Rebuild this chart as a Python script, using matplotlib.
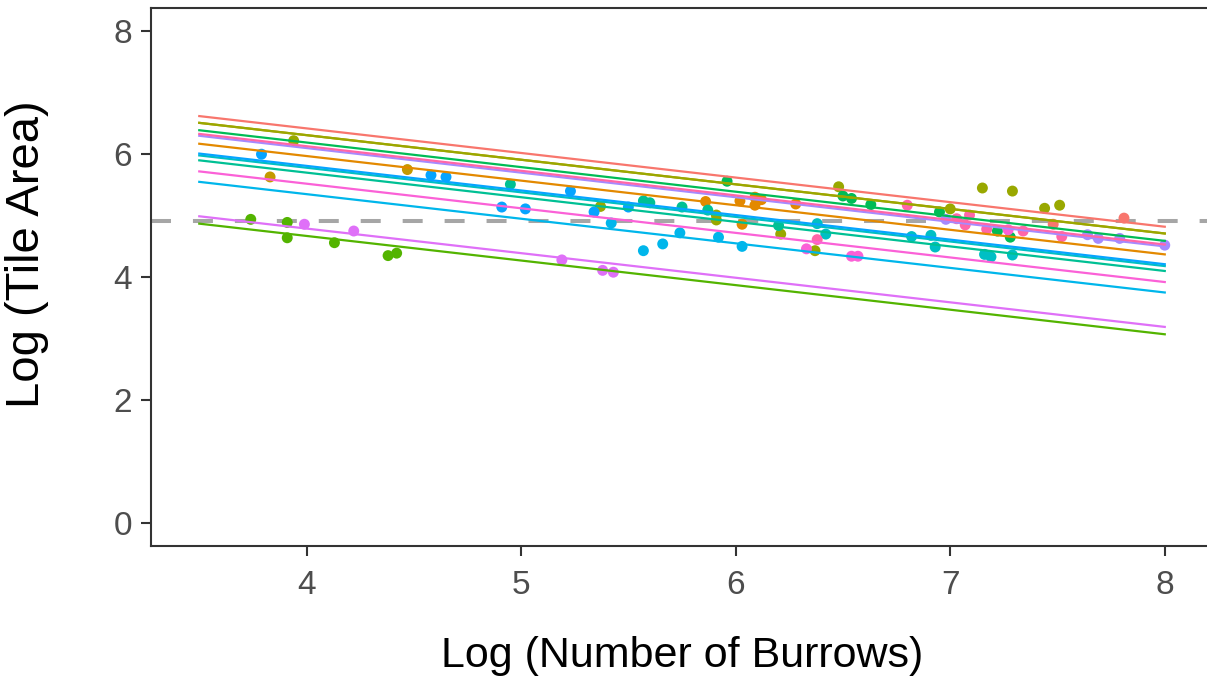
import matplotlib
matplotlib.use("Agg")
import matplotlib.pyplot as plt
import numpy as np

plt.rcParams['font.family'] = ['Liberation Sans', 'DejaVu Sans']

# group colours (ggplot hue palette, 14 levels)
colors = ["#F8766D", "#E38900", "#C49A00", "#99A800", "#53B400", "#00BC56", "#00C094",
          "#00BFC4", "#00B6EB", "#06A4FF", "#A58AFF", "#DF70F8", "#FB61D7", "#FF66A8"]

# fitted intercept at x = 3.5 for each group, common slope
line_y0 = [6.62, 6.17, 6.51, 6.51, 4.87, 6.39, 5.90, 5.98, 5.55, 6.01, 6.30, 4.99, 5.72, 6.33]
slope = -0.40
x_start, x_end = 3.5, 8.0

# observed points per group
pts_x = [
    [7.48, 7.81],
    [5.86, 6.02, 6.03, 6.09, 6.12, 6.09, 6.28],
    [3.83, 4.47],
    [3.94, 5.37, 5.91, 5.91, 6.21, 6.37, 6.48, 7.00, 7.15, 7.29, 7.44, 7.51],
    [3.74, 3.91, 3.91, 4.13, 4.38, 4.42],
    [5.96, 6.50, 6.54, 6.63, 6.95, 7.22, 7.28],
    [4.95, 5.57, 5.60, 5.75, 5.87, 6.20],
    [6.38, 6.42, 6.82, 6.91, 6.93, 7.16, 7.19, 7.29],
    [5.42, 5.57, 5.66, 5.74, 5.92, 6.03],
    [3.79, 4.58, 4.65, 4.91, 5.02, 5.23, 5.34, 5.50],
    [6.98, 7.64, 7.69, 7.79, 8.00],
    [3.99, 4.22, 5.19, 5.38, 5.43],
    [6.33, 6.54, 6.57, 7.27],
    [6.80, 6.38, 7.07, 7.09, 7.17, 7.34, 7.52, 7.03],
]
pts_y = [
    [4.86, 4.96],
    [5.23, 5.24, 4.86, 5.30, 5.26, 5.17, 5.19],
    [5.63, 5.75],
    [6.22, 5.15, 5.01, 4.93, 4.70, 4.43, 5.47, 5.11, 5.45, 5.40, 5.12, 5.17],
    [4.94, 4.89, 4.64, 4.56, 4.35, 4.39],
    [5.56, 5.32, 5.28, 5.18, 5.06, 4.75, 4.65],
    [5.51, 5.24, 5.21, 5.14, 5.09, 4.84],
    [4.87, 4.70, 4.66, 4.68, 4.49, 4.37, 4.33, 4.36],
    [4.88, 4.43, 4.54, 4.72, 4.65, 4.50],
    [6.00, 5.66, 5.63, 5.14, 5.11, 5.40, 5.06, 5.14],
    [4.94, 4.69, 4.63, 4.63, 4.52],
    [4.86, 4.75, 4.28, 4.11, 4.08],
    [4.46, 4.34, 4.34, 4.77],
    [5.17, 4.61, 4.85, 5.01, 4.78, 4.75, 4.66, 4.95],
]

ref_level = 4.91

fig = plt.figure(figsize=(12.07, 6.81), dpi=100)
ax = fig.add_axes([0.1251, 0.1982, 0.8799, 0.790])

lw_dash = 2.9
ax.axhline(ref_level, color="#A6A6A6", lw=lw_dash, ls=(0, (14.4 / lw_dash, 15.8 / lw_dash)), zorder=1)

for c, xs, ys in zip(colors, pts_x, pts_y):
    ax.scatter(xs, ys, s=62, color=c, edgecolors="none", zorder=2)

for c, b in zip(colors, line_y0):
    xx = np.array([x_start, x_end])
    ax.plot(xx, b + slope * (xx - x_start), color=c, lw=1.6, zorder=3)

ax.set_xlim(3.275, 8.225)
ax.set_ylim(-0.375, 8.378)
ax.set_xticks([4, 5, 6, 7, 8])
ax.set_yticks([0, 2, 4, 6, 8])

for s in ax.spines.values():
    s.set_color("#333333")
    s.set_linewidth(1.5)

ax.tick_params(axis="both", length=7.5, width=1.5, color="#333333",
               labelcolor="#4D4D4D", labelsize=24)
ax.tick_params(axis="x", pad=10)
ax.tick_params(axis="y", pad=6)

ax.set_xlabel("Log (Number of Burrows)", fontsize=31, labelpad=25)
ax.set_ylabel("Log (Tile Area)", fontsize=34)
ax.yaxis.set_label_coords(-0.096, 0.543)

fig.savefig("out.png", dpi=100)
